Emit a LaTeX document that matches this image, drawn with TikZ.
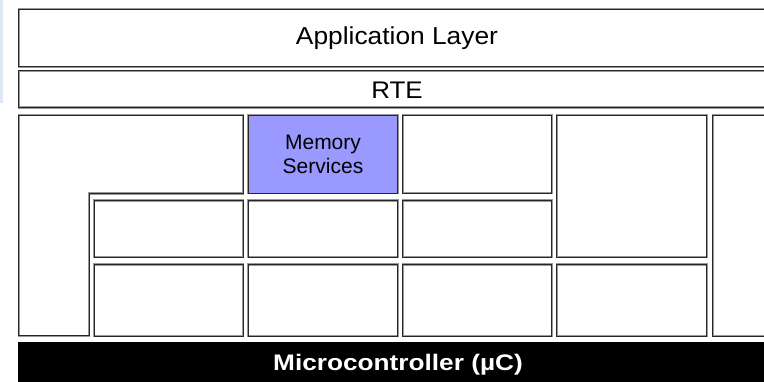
\documentclass[tikz,border=0pt]{standalone}
\usepackage{fontspec}
\usepackage{graphicx}
\setmainfont{Liberation Sans}
\definecolor{memblue}{RGB}{153,153,255}
\definecolor{striplight}{RGB}{222,232,244}
\begin{document}
\begin{tikzpicture}[x=1pt,y=-1pt,
  frame/.style={draw=black!85, line width=0.9pt, preaction={draw=black!40, line width=2.2pt}},
  lbl/.style={inner sep=0pt, outer sep=0pt, align=center, text=black},
  memfill/.style={fill=memblue}
]
\useasboundingbox (0,0) rectangle (764,382);
\fill[white] (0,0) rectangle (764,382);
% faint left strip
\fill[striplight] (0,0) rectangle (2.5,103);

% application layer and RTE
\draw[frame] (18.7,9.3) rectangle (776,66.7);
\node[lbl, font=\fontsize{24.5}{28}\selectfont] (app) at (397,38.5) {\scalebox{1.075}[1]{Application Layer}};
\draw[frame] (18.7,70.7) rectangle (776,107.5);
\node[lbl, font=\fontsize{24}{28}\selectfont] (rte) at (397,90.5) {\scalebox{1.08}[1]{RTE}};

% L-shaped block
\draw[frame] (18.7,115) -- (243.3,115) -- (243.3,193.5) -- (89.3,193.5) -- (89.3,335.7) -- (18.7,335.7) -- cycle;

% top row
\draw[frame, memfill] (248.3,115) rectangle (397.7,193.3);
\node[lbl, font=\fontsize{21}{24.5}\selectfont] (mem) at (323,154.5) {Memory\\Services};
\draw[frame] (402.7,115) rectangle (551.7,193.3);
\draw[frame] (556.7,115) rectangle (706.7,257.3);
\draw[frame] (712.7,115) rectangle (862,336);

% middle row
\draw[frame] (94.3,200.5) rectangle (243.3,257.3);
\draw[frame] (248.3,200.5) rectangle (397.7,257.3);
\draw[frame] (402.7,200.5) rectangle (551.7,257.3);

% bottom row
\draw[frame] (94.3,264.5) rectangle (243.3,336);
\draw[frame] (248.3,264.5) rectangle (397.7,336);
\draw[frame] (402.7,264.5) rectangle (551.7,336);
\draw[frame] (556.7,264.5) rectangle (706.7,336);

% microcontroller bar
\fill[black] (18,342.5) rectangle (800,400);
\node[lbl, text=white, font=\bfseries\fontsize{22.5}{26}\selectfont] (mcu) at (398,364.5) {\scalebox{1.165}[1]{Microcontroller (µC)}};
\end{tikzpicture}
\end{document}
